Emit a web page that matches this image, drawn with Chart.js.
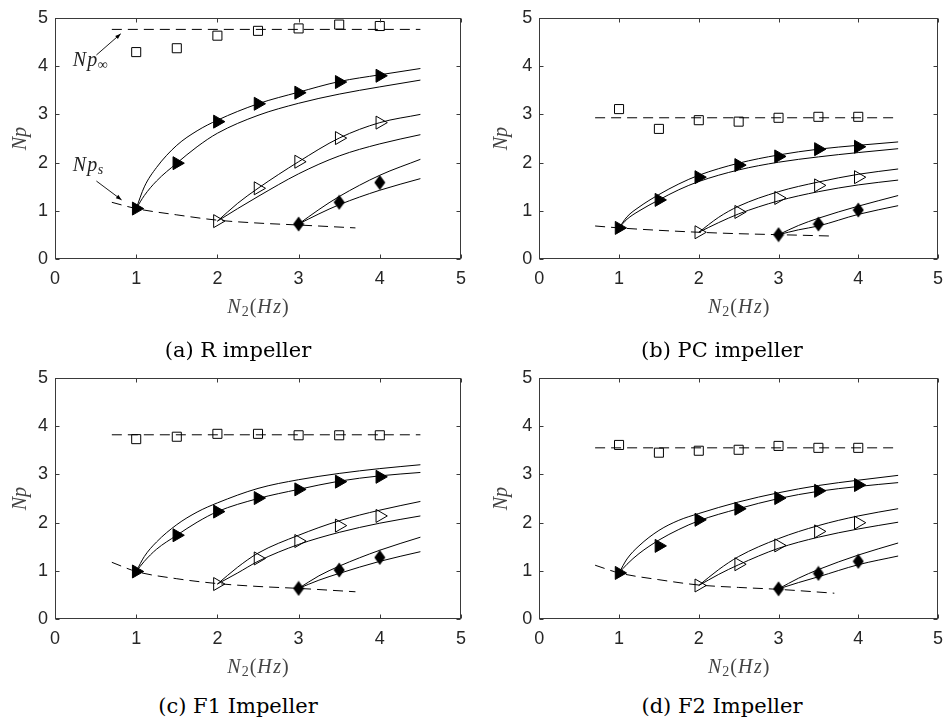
<!DOCTYPE html>
<html>
<head>
<meta charset="utf-8">
<title>Power number vs N2</title>
<script src="https://cdn.jsdelivr.net/npm/chart.js@4.4.0/dist/chart.umd.min.js"></script>
<style>
  body { margin: 0; background: #fff; }
  #fig { position: relative; width: 952px; height: 722px; background: #fff; }
  .panel { position: absolute; width: 476px; height: 330px; }
  .caption { position: absolute; width: 300px; text-align: center; font: 21px "DejaVu Serif"; line-height: 24px; color: #000; }
</style>
</head>
<body>
<div id="fig">
  <div class="panel" style="left:0;top:0"><canvas id="chartR"></canvas></div>
  <div class="panel" style="left:476px;top:0"><canvas id="chartPC"></canvas></div>
  <div class="panel" style="left:0;top:360px"><canvas id="chartF1"></canvas></div>
  <div class="panel" style="left:476px;top:360px"><canvas id="chartF2"></canvas></div>
  <div class="caption" style="left:88px;top:338px">(a) R impeller</div>
  <div class="caption" style="left:572px;top:338px">(b) PC impeller</div>
  <div class="caption" style="left:88px;top:694px">(c) F1 Impeller</div>
  <div class="caption" style="left:572px;top:694px">(d) F2 Impeller</div>
</div>
<script>
// x positions (Hz)
const markerN = [1, 1.5, 2, 2.5, 3, 3.5, 4];
const run1N = [1, 1.5, 2, 2.5, 3, 3.5, 4];
const run2N = [2, 2.5, 3, 3.5, 4];
const run3N = [3, 3.5, 4];
const fit1N = [1, 1.1, 1.25, 1.5, 1.75, 2, 2.5, 3, 3.5, 4, 4.5];
const fit2N = [2, 2.25, 2.5, 3, 3.5, 4, 4.5];
const fit3N = [3, 3.25, 3.5, 4, 4.5];
const startN = [0.7, 1, 1.5, 2, 2.5, 3, 3.7];
const infN = [0.7, 4.5];
const axisTicks = [0, 1, 2, 3, 4, 5];

// R impeller
const rSquares = [4.29, 4.37, 4.63, 4.73, 4.78, 4.86, 4.83];
const rInf = 4.76;
const rRun1 = [1.05, 1.99, 2.85, 3.22, 3.45, 3.67, 3.80];
const rRun2 = [0.79, 1.47, 2.02, 2.51, 2.83];
const rRun3 = [0.73, 1.18, 1.59];
const rFit1Hi = [1.05, 1.50, 1.90, 2.36, 2.66, 2.88, 3.22, 3.46, 3.68, 3.82, 3.95];
const rFit1Lo = [1.05, 1.32, 1.62, 1.99, 2.33, 2.61, 2.98, 3.23, 3.42, 3.57, 3.71];
const rFit2Hi = [0.79, 1.16, 1.47, 2.02, 2.51, 2.83, 3.00];
const rFit2Lo = [0.79, 1.05, 1.30, 1.77, 2.14, 2.39, 2.58];
const rFit3Hi = [0.73, 1.03, 1.30, 1.74, 2.07];
const rFit3Lo = [0.73, 0.94, 1.13, 1.43, 1.67];
const rStart = [1.18, 1.05, 0.92, 0.81, 0.75, 0.71, 0.65];

// PC impeller
const pcSquares = [3.11, 2.70, 2.88, 2.85, 2.93, 2.95, 2.95];
const pcInf = 2.93;
const pcRun1 = [0.65, 1.23, 1.70, 1.95, 2.13, 2.28, 2.33];
const pcRun2 = [0.56, 0.98, 1.27, 1.53, 1.70];
const pcRun3 = [0.51, 0.73, 1.02];
const pcFit1Hi = [0.65, 0.88, 1.08, 1.34, 1.56, 1.74, 1.99, 2.16, 2.28, 2.36, 2.43];
const pcFit1Lo = [0.65, 0.83, 1.00, 1.23, 1.44, 1.61, 1.85, 2.01, 2.12, 2.21, 2.29];
const pcFit2Hi = [0.56, 0.87, 1.10, 1.40, 1.60, 1.76, 1.87];
const pcFit2Lo = [0.56, 0.76, 0.94, 1.21, 1.40, 1.54, 1.64];
const pcFit3Hi = [0.51, 0.70, 0.85, 1.10, 1.32];
const pcFit3Lo = [0.51, 0.61, 0.69, 0.93, 1.11];
const pcStart = [0.69, 0.65, 0.60, 0.56, 0.53, 0.51, 0.48];

// F1 impeller
const f1Squares = [3.73, 3.78, 3.84, 3.84, 3.81, 3.81, 3.81];
const f1Inf = 3.82;
const f1Run1 = [0.99, 1.74, 2.23, 2.51, 2.69, 2.85, 2.95];
const f1Run2 = [0.73, 1.26, 1.62, 1.94, 2.14];
const f1Run3 = [0.64, 1.02, 1.28];
const f1Fit1Hi = [0.99, 1.30, 1.60, 1.96, 2.22, 2.41, 2.71, 2.89, 3.02, 3.12, 3.20];
const f1Fit1Lo = [0.99, 1.20, 1.45, 1.74, 2.01, 2.23, 2.50, 2.69, 2.86, 2.97, 3.04];
const f1Fit2Hi = [0.73, 1.08, 1.37, 1.74, 2.04, 2.26, 2.44];
const f1Fit2Lo = [0.73, 0.96, 1.20, 1.55, 1.80, 1.99, 2.14];
const f1Fit3Hi = [0.64, 0.90, 1.10, 1.43, 1.70];
const f1Fit3Lo = [0.64, 0.81, 0.95, 1.20, 1.40];
const f1Start = [1.18, 0.99, 0.84, 0.74, 0.68, 0.64, 0.57];

// F2 impeller
const f2Squares = [3.61, 3.45, 3.49, 3.51, 3.59, 3.55, 3.55];
const f2Inf = 3.55;
const f2Run1 = [0.96, 1.52, 2.06, 2.29, 2.51, 2.66, 2.78];
const f2Run2 = [0.70, 1.14, 1.53, 1.82, 2.00];
const f2Run3 = [0.63, 0.95, 1.20];
const f2Fit1Hi = [0.96, 1.25, 1.52, 1.84, 2.05, 2.19, 2.43, 2.62, 2.77, 2.88, 2.98];
const f2Fit1Lo = [0.96, 1.14, 1.36, 1.64, 1.86, 2.04, 2.29, 2.50, 2.65, 2.75, 2.83];
const f2Fit2Hi = [0.70, 1.03, 1.30, 1.67, 1.94, 2.14, 2.29];
const f2Fit2Lo = [0.70, 0.93, 1.13, 1.47, 1.70, 1.87, 2.01];
const f2Fit3Hi = [0.63, 0.85, 1.03, 1.33, 1.58];
const f2Fit3Lo = [0.63, 0.76, 0.88, 1.13, 1.31];
const f2Start = [1.12, 0.96, 0.82, 0.71, 0.66, 0.62, 0.54];

const SERIF = '"Liberation Serif", "Times New Roman", serif';
const MI = 'italic 20px ' + SERIF;
const RM = '20px ' + SERIF;
const SUB = '14px ' + SERIF;
const SUBI = 'italic 14px ' + SERIF;

function pts(xs, ys) {
  return xs.map((x, i) => ({ x: x, y: ys[i] }));
}

// tall diamond bitmap, Chart.js only has the square one
const diamond = (function () {
  const c = document.createElement('canvas');
  c.width = 12;
  c.height = 16;
  const g = c.getContext('2d');
  g.fillStyle = '#000';
  g.beginPath();
  g.moveTo(6, 0.5); g.lineTo(11.5, 8); g.lineTo(6, 15.5); g.lineTo(0.5, 8);
  g.closePath();
  g.fill();
  return c;
})();

function markerSet(data, style, filled, radius, rotation) {
  return {
    data: data, pointStyle: style, pointRadius: radius, pointRotation: rotation || 0,
    pointBackgroundColor: filled ? '#000' : 'rgba(0,0,0,0)', pointBorderColor: '#000',
    pointBorderWidth: 1, showLine: false, order: 0
  };
}

function curve(data, dashed) {
  return {
    data: data, showLine: true, pointRadius: 0, borderColor: '#000', borderWidth: 1,
    borderDash: dashed ? [10, 6] : [], cubicInterpolationMode: 'monotone', order: 1
  };
}

// text made of several font runs (italic symbols, upright digits, subscripts)
function runsWidth(ctx, runs) {
  let w = 0;
  runs.forEach(r => { ctx.font = r.font; w += ctx.measureText(r.t).width + (r.gap || 0); });
  return w;
}
function drawRuns(ctx, runs, x, y) {
  let cx = x;
  ctx.textBaseline = 'alphabetic';
  ctx.textAlign = 'left';
  runs.forEach(r => {
    ctx.font = r.font;
    ctx.fillText(r.t, cx, y + (r.dy || 0));
    cx += ctx.measureText(r.t).width + (r.gap || 0);
  });
}

function arrow(ctx, x0, y0, x1, y1) {
  const ang = Math.atan2(y1 - y0, x1 - x0);
  ctx.beginPath();
  ctx.moveTo(x0, y0);
  ctx.lineTo(x1, y1);
  ctx.stroke();
  ctx.beginPath();
  ctx.moveTo(x1, y1);
  ctx.lineTo(x1 - 6 * Math.cos(ang - 0.35), y1 - 6 * Math.sin(ang - 0.35));
  ctx.lineTo(x1 - 6 * Math.cos(ang + 0.35), y1 - 6 * Math.sin(ang + 0.35));
  ctx.closePath();
  ctx.fill();
}

// axes box with inward ticks on all four sides, plus the x label
const frame = {
  id: 'frame',
  afterDraw(chart) {
    const { ctx, chartArea: a, scales: { x, y } } = chart;
    ctx.save();
    ctx.strokeStyle = '#3a3a3a';
    ctx.lineWidth = 1;
    const L = Math.round(a.left) + 0.5, R = Math.round(a.right) - 0.5;
    const T = Math.round(a.top) + 0.5, B = Math.round(a.bottom) - 0.5;
    ctx.strokeRect(L, T, R - L, B - T);
    ctx.beginPath();
    axisTicks.forEach(v => {
      const px = Math.round(x.getPixelForValue(v)) + 0.5;
      ctx.moveTo(px, B); ctx.lineTo(px, B - 4);
      ctx.moveTo(px, T); ctx.lineTo(px, T + 4);
      const py = Math.round(y.getPixelForValue(v)) + 0.5;
      ctx.moveTo(L, py); ctx.lineTo(L + 4, py);
      ctx.moveTo(R, py); ctx.lineTo(R - 4, py);
    });
    ctx.stroke();

    const title = [
      { t: 'N', font: MI, gap: 1 }, { t: '2', font: SUB, dy: 3, gap: 1 }, { t: '(', font: RM, gap: 1 },
      { t: 'H', font: MI, gap: 1.5 }, { t: 'z', font: MI, gap: 1 }, { t: ')', font: RM }
    ];
    ctx.fillStyle = '#444';
    drawRuns(ctx, title, (a.left + a.right) / 2 - runsWidth(ctx, title) / 2, 313);
    ctx.restore();
  }
};

// Np_inf and Np_s callouts on the R impeller panel
const callouts = {
  id: 'callouts',
  afterDraw(chart) {
    const { ctx, scales: { x, y } } = chart;
    ctx.save();
    ctx.fillStyle = '#222';
    drawRuns(ctx, [{ t: 'N', font: MI, gap: 1 }, { t: 'p', font: MI, gap: 0.5 }, { t: '\u221E', font: SUB, dy: 3 }],
      x.getPixelForValue(0.22), y.getPixelForValue(4.01));
    drawRuns(ctx, [{ t: 'N', font: MI, gap: 1 }, { t: 'p', font: MI, gap: 0.5 }, { t: 's', font: SUBI, dy: 3 }],
      x.getPixelForValue(0.22), y.getPixelForValue(1.82));
    ctx.strokeStyle = '#000';
    ctx.fillStyle = '#000';
    ctx.lineWidth = 0.9;
    arrow(ctx, x.getPixelForValue(0.51), y.getPixelForValue(4.23), x.getPixelForValue(0.81), y.getPixelForValue(4.67));
    arrow(ctx, x.getPixelForValue(0.51), y.getPixelForValue(1.62), x.getPixelForValue(0.82), y.getPixelForValue(1.23));
    ctx.restore();
  }
};

function makePanel(id, d, box, extra) {
  const datasets = [
    markerSet(pts(markerN, d.squares), 'rect', false, 6.4),
    markerSet(pts(run1N, d.run1), 'triangle', true, 7.5, 90),
    markerSet(pts(run2N, d.run2), 'triangle', false, 7.5, 90),
    markerSet(pts(run3N, d.run3), diamond, true, 7),
    curve(pts(infN, [d.inf, d.inf]), true),
    curve(pts(startN, d.start), true),
    curve(pts(fit1N, d.fit1Hi)), curve(pts(fit1N, d.fit1Lo)),
    curve(pts(fit2N, d.fit2Hi)), curve(pts(fit2N, d.fit2Lo)),
    curve(pts(fit3N, d.fit3Hi)), curve(pts(fit3N, d.fit3Lo))
  ];
  const tickFont = { family: '"Liberation Sans", Arial, sans-serif', size: 18 };
  return new Chart(document.getElementById(id), {
    type: 'scatter',
    data: { datasets: datasets },
    options: {
      responsive: true,
      maintainAspectRatio: false,
      animation: false,
      layout: { padding: { left: 0, right: 476 - box.right, top: 11.7, bottom: 0 } },
      plugins: { legend: { display: false }, tooltip: { enabled: false } },
      scales: {
        x: {
          type: 'linear', min: 0, max: 5,
          border: { display: false },
          grid: { display: false, drawTicks: false },
          ticks: { stepSize: 1, font: tickFont, color: '#262626', padding: 9 },
          afterFit: s => { s.height = 330 - 259.3; }
        },
        y: {
          type: 'linear', min: 0, max: 5,
          border: { display: false },
          grid: { display: false, drawTicks: false },
          ticks: { stepSize: 1, font: tickFont, color: '#262626', padding: 7 },
          title: {
            display: true, text: 'Np', color: '#444',
            font: { family: SERIF, style: 'italic', size: 20 },
            padding: { top: box.titleTop, bottom: 0 }
          },
          afterFit: s => { s.width = box.left; }
        }
      }
    },
    plugins: extra ? [frame, extra] : [frame]
  });
}

const leftBox = { left: 55, right: 461, titleTop: 9 };
const rightBox = { left: 63.3, right: 468.3, titleTop: 14 };

makePanel('chartR', {
  squares: rSquares, inf: rInf, run1: rRun1, run2: rRun2, run3: rRun3,
  fit1Hi: rFit1Hi, fit1Lo: rFit1Lo, fit2Hi: rFit2Hi, fit2Lo: rFit2Lo,
  fit3Hi: rFit3Hi, fit3Lo: rFit3Lo, start: rStart
}, leftBox, callouts);

makePanel('chartPC', {
  squares: pcSquares, inf: pcInf, run1: pcRun1, run2: pcRun2, run3: pcRun3,
  fit1Hi: pcFit1Hi, fit1Lo: pcFit1Lo, fit2Hi: pcFit2Hi, fit2Lo: pcFit2Lo,
  fit3Hi: pcFit3Hi, fit3Lo: pcFit3Lo, start: pcStart
}, rightBox);

makePanel('chartF1', {
  squares: f1Squares, inf: f1Inf, run1: f1Run1, run2: f1Run2, run3: f1Run3,
  fit1Hi: f1Fit1Hi, fit1Lo: f1Fit1Lo, fit2Hi: f1Fit2Hi, fit2Lo: f1Fit2Lo,
  fit3Hi: f1Fit3Hi, fit3Lo: f1Fit3Lo, start: f1Start
}, leftBox);

makePanel('chartF2', {
  squares: f2Squares, inf: f2Inf, run1: f2Run1, run2: f2Run2, run3: f2Run3,
  fit1Hi: f2Fit1Hi, fit1Lo: f2Fit1Lo, fit2Hi: f2Fit2Hi, fit2Lo: f2Fit2Lo,
  fit3Hi: f2Fit3Hi, fit3Lo: f2Fit3Lo, start: f2Start
}, rightBox);
</script>
</body>
</html>
